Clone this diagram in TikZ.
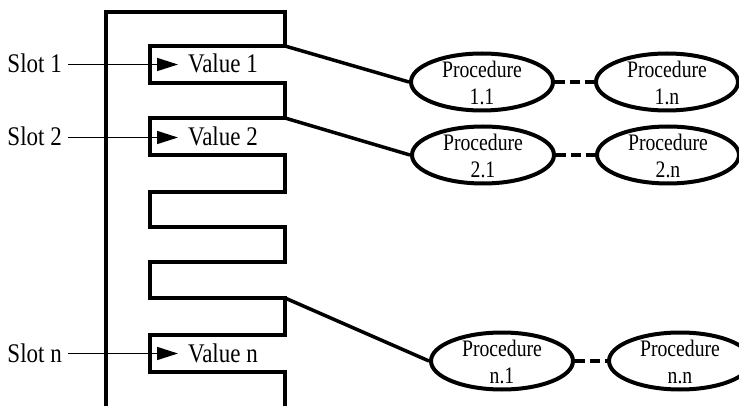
\documentclass[tikz,border=0pt]{standalone}
\usepackage{fontspec}
\usepackage{graphicx}
\setmainfont{Liberation Serif}
\usetikzlibrary{arrows.meta,shapes.geometric}
\newcommand{\vst}[2]{\scalebox{1}[#1]{#2}}
\newcommand{\ptext}[1]{\vst{1.2}{\begin{tabular}{@{}c@{}}Procedure\\#1\end{tabular}}}
\begin{document}
\begin{tikzpicture}[x=1pt,y=-1pt,
  frame/.style={line width=4.5pt,line join=miter},
  conn/.style={line width=3.5pt},
  dashconn/.style={line width=4.5pt,dash pattern=on 10pt off 5pt},
  slotlbl/.style={font=\fontsize{23}{27}\selectfont,anchor=base east,inner sep=0pt},
  vallbl/.style={font=\fontsize{23}{27}\selectfont,anchor=base west,inner sep=0pt},
  slotarrow/.style={line width=1.6pt,-{Triangle[length=21pt,width=13pt]},shorten <=6pt,shorten >=10pt},
  proc/.style={ellipse,draw,line width=4pt,minimum width=142pt,minimum height=57pt,inner sep=0pt},
  proctext/.style={inner sep=0pt,font=\fontsize{19.7}{22.5}\selectfont}
]
\useasboundingbox (0,0) rectangle (739,406);
% frame with comb
\draw[frame] (106,406) -- (106,12) -- (285,12) -- (285,46) coordinate (c1)
  -- (150,46) -- (150,83) -- (285,83) -- (285,118) coordinate (c2)
  -- (150,118) -- (150,155) -- (285,155) -- (285,192)
  -- (150,192) -- (150,227) -- (285,227) -- (285,262)
  -- (150,262) -- (150,298) -- (285,298) coordinate (cn)
  -- (285,335) -- (150,335) -- (150,372) -- (285,372) -- (285,406);
% slots
\node[slotlbl] (s1) at (62,73) {\vst{1.17}{Slot 1}};
\node[slotlbl] (s2) at (62,146) {\vst{1.17}{Slot 2}};
\node[slotlbl] (sn) at (62,362) {\vst{1.17}{Slot n}};
\node[vallbl] (v1) at (188,73) {\vst{1.17}{Value 1}};
\node[vallbl] (v2) at (188,146) {\vst{1.17}{Value 2}};
\node[vallbl] (vn) at (188,362) {\vst{1.17}{Value n}};
\draw[slotarrow] ([yshift=8.5pt]s1.base east) -- ([yshift=8.5pt]v1.base west);
\draw[slotarrow] ([yshift=8.5pt]s2.base east) -- ([yshift=8.5pt]v2.base west);
\draw[slotarrow] ([yshift=8.5pt]sn.base east) -- ([yshift=8.5pt]vn.base west);
% procedures
\node[proc] (p11) at (482,82) {};
\node[proc] (p1n) at (667,82) {};
\node[proc] (p21) at (483,155) {};
\node[proc] (p2n) at (668,155) {};
\node[proc] (pn1) at (502,361) {};
\node[proc] (pnn) at (680,361) {};
\node[proctext] (t11) at ([yshift=-4pt]p11.center) {\ptext{1.1}};
\node[proctext] (t1n) at ([yshift=-4pt]p1n.center) {\ptext{1.n}};
\node[proctext] (t21) at ([yshift=-4pt]p21.center) {\ptext{2.1}};
\node[proctext] (t2n) at ([yshift=-4pt]p2n.center) {\ptext{2.n}};
\node[proctext] (tn1) at ([yshift=-4pt]pn1.center) {\ptext{n.1}};
\node[proctext] (tnn) at ([yshift=-4pt]pnn.center) {\ptext{n.n}};
\draw[conn] (c1) -- (p11.west);
\draw[conn] (c2) -- (p21.west);
\draw[conn] (cn) -- (pn1.west);
\draw[dashconn] (p11.east) -- (p1n.west);
\draw[dashconn] (p21.east) -- (p2n.west);
\draw[dashconn] (pn1.east) -- (pnn.west);
\end{tikzpicture}
\end{document}
